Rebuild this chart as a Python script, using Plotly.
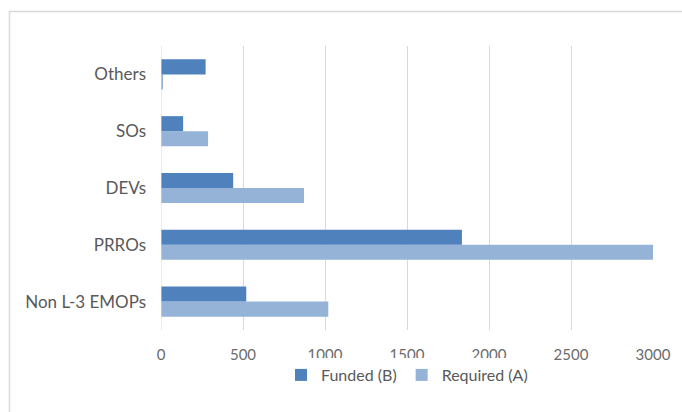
import plotly.graph_objects as go

categories = ["Non L-3 EMOPs", "PRROs", "DEVs", "SOs", "Others"]
funded = [520, 1835, 440, 135, 272]
required = [1020, 3000, 872, 287, 10]
x_ticks = [0, 500, 1000, 1500, 2000, 2500, 3000]

fig = go.Figure()
fig.add_trace(go.Bar(y=categories, x=required, orientation="h", name="Required (A)",
                     marker=dict(color="#95b3d7", line=dict(width=0))))
fig.add_trace(go.Bar(y=categories, x=funded, orientation="h", name="Funded (B)",
                     marker=dict(color="#4f81bd", line=dict(width=0))))

W, H = 682, 412
l, r, t, b = 161, 29, 46, 82
pw, ph = W - l - r, H - t - b

def px(x):
    return (x - l) / pw

def py(y):
    return 1 - (y - t) / ph

fig.update_layout(
    width=W, height=H,
    margin=dict(l=l, r=r, t=t, b=b),
    paper_bgcolor="white", plot_bgcolor="white",
    barmode="group", bargap=0.47, bargroupgap=0,
    font=dict(family="Lato, Open Sans, sans-serif", size=15, color="#595959"),
    xaxis=dict(range=[0, 3000], tickvals=x_ticks, showgrid=True, gridcolor="#d9d9d9",
               gridwidth=1, zeroline=False, showline=False, ticks="",
               ticklabelstandoff=14,
               tickfont=dict(size=15, color="#6b6b6b")),
    yaxis=dict(categoryorder="array", categoryarray=categories, showgrid=False,
               showline=False, ticks="", ticklabelstandoff=14,
               tickfont=dict(size=17, color="#595959")),
    legend=dict(orientation="h", x=0.5, xanchor="center", y=py(375), yanchor="middle",
                traceorder="reversed", itemwidth=30, font=dict(size=16, color="#595959")),
    shapes=[dict(type="rect", xref="paper", yref="paper",
                 x0=px(9.5), y0=py(430), x1=px(700), y1=py(11.5),
                 line=dict(color="#d9d9d9", width=1.5), fillcolor="rgba(0,0,0,0)", layer="below"),
            dict(type="line", xref="x", yref="paper", x0=0, x1=0, y0=0, y1=1,
                 line=dict(color="#d9d9d9", width=1))],
    showlegend=True,
)

fig.write_html("out.html")
